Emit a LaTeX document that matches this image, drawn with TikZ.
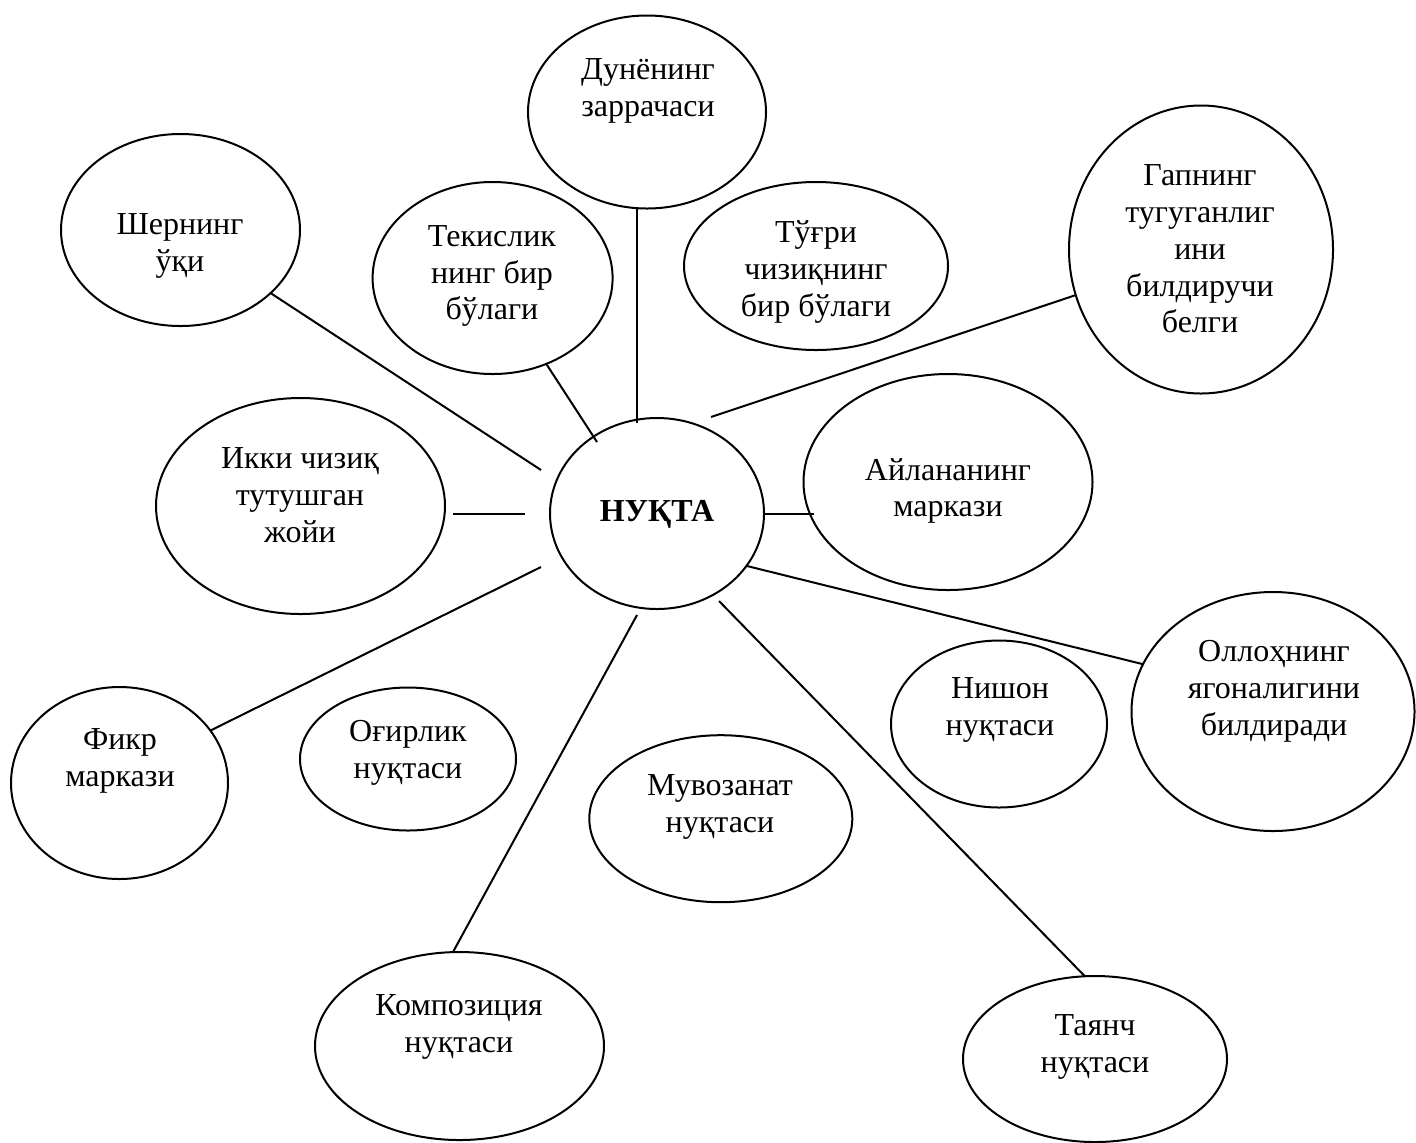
\documentclass[tikz,border=0pt]{standalone}
\usepackage{fontspec}
\setmainfont{Liberation Serif}
\usetikzlibrary{shapes.geometric}

\begin{document}
\begin{tikzpicture}[x=0.5pt, y=-0.5pt, line width=1pt,
  bub/.style 2 args={draw, ellipse, inner sep=0pt, outer sep=0pt,
    minimum width=#1*0.5pt, minimum height=#2*0.5pt},
  txt/.style={align=center, font=\fontsize{16}{18.4}\selectfont}]
  \useasboundingbox (0,0) rectangle (1416,1142);

  % centre
  \node[bub={214}{191}] (nukta) at (657,513.5) {};
  \node[txt,font=\fontsize{16}{18.4}\selectfont\bfseries] (nukta-t) at (657,514) {НУҚТА};

  % top row
  \node[bub={239}{192}] (sher) at (180.5,230) {};
  \node[txt] (sher-t) at (180,246) {Шернинг\\ўқи};
  \node[bub={240}{192}] (tekis) at (492.6,278) {};
  \node[txt] (tekis-t) at (492,276) {Текислик\\нинг бир\\бўлаги};
  \node[bub={238}{193}] (dunyo) at (647,112) {};
  \node[txt] (dunyo-t) at (648,91) {Дунёнинг\\заррачаси};
  \node[bub={264}{168}] (togri) at (816,266) {};
  \node[txt] (togri-t) at (816,272) {Тўғри\\чизиқнинг\\бир бўлаги};
  \node[bub={264}{288}] (gap) at (1201,249.5) {};
  \node[txt] (gap-t) at (1200,249) {Гапнинг\\тугуганлиг\\ини\\билдиручи\\белги};

  % middle row
  \node[bub={289}{216}] (ikki) at (300.5,506) {};
  \node[txt] (ikki-t) at (300,495) {Икки чизиқ\\тутушган\\жойи};
  \node[bub={289}{216}] (aylana) at (948,482) {};
  \node[txt] (aylana-t) at (948,491) {Айлананинг\\маркази};

  % lower rows
  \node[bub={217}{192}] (fikr) at (119.5,783) {};
  \node[txt] (fikr-t) at (120,761) {Фикр\\маркази};
  \node[bub={216}{143}] (ogir) at (408,759) {};
  \node[txt] (ogir-t) at (408,753) {Оғирлик\\нуқтаси};
  \node[bub={263}{167}] (muvoz) at (720.8,818.7) {};
  \node[txt] (muvoz-t) at (720,807) {Мувозанат\\нуқтаси};
  \node[bub={216}{167}] (nishon) at (999,724) {};
  \node[txt] (nishon-t) at (1000,710) {Нишон\\нуқтаси};
  \node[bub={283}{239}] (olloh) at (1273,711.5) {};
  \node[txt] (olloh-t) at (1274,691) {Оллоҳнинг\\ягоналигини\\билдиради};
  \node[bub={289}{188}] (kompoz) at (459.5,1046) {};
  \node[txt] (kompoz-t) at (459,1027) {Композиция\\нуқтаси};
  \node[bub={264}{166}] (tayanch) at (1095,1059) {};
  \node[txt] (tayanch-t) at (1095,1047) {Таянч\\нуқтаси};

  % loose ends of the spokes
  \coordinate (in-sher) at (541,470);
  \coordinate (in-tekis) at (597,442);
  \coordinate (in-dunyo) at (637,423);
  \coordinate (in-gap) at (711,417);
  \coordinate (out-ikki) at (453,513.5);
  \coordinate (in-ikki) at (525,513.5);
  \coordinate (in-aylana) at (814,513.5);
  \coordinate (in-fikr) at (541,567);
  \coordinate (in-kompoz) at (637,615);
  \coordinate (in-olloh) at (747,566);
  \coordinate (in-tayanch) at (719,601);

  % spokes
  \draw (sher.-35) -- (in-sher);
  \draw (tekis.-58) -- (in-tekis);
  \draw (dunyo.-96) -- (dunyo.-96 |- in-dunyo);
  \draw (gap.-160) -- (in-gap);
  \draw (out-ikki) -- (in-ikki);
  \draw (nukta.east) -- (in-aylana);
  \draw (fikr.30) -- (in-fikr);
  \draw (kompoz.94) -- (in-kompoz);
  \draw (olloh.160) -- (in-olloh);
  \draw (tayanch.97) -- (in-tayanch);
\end{tikzpicture}
\end{document}
